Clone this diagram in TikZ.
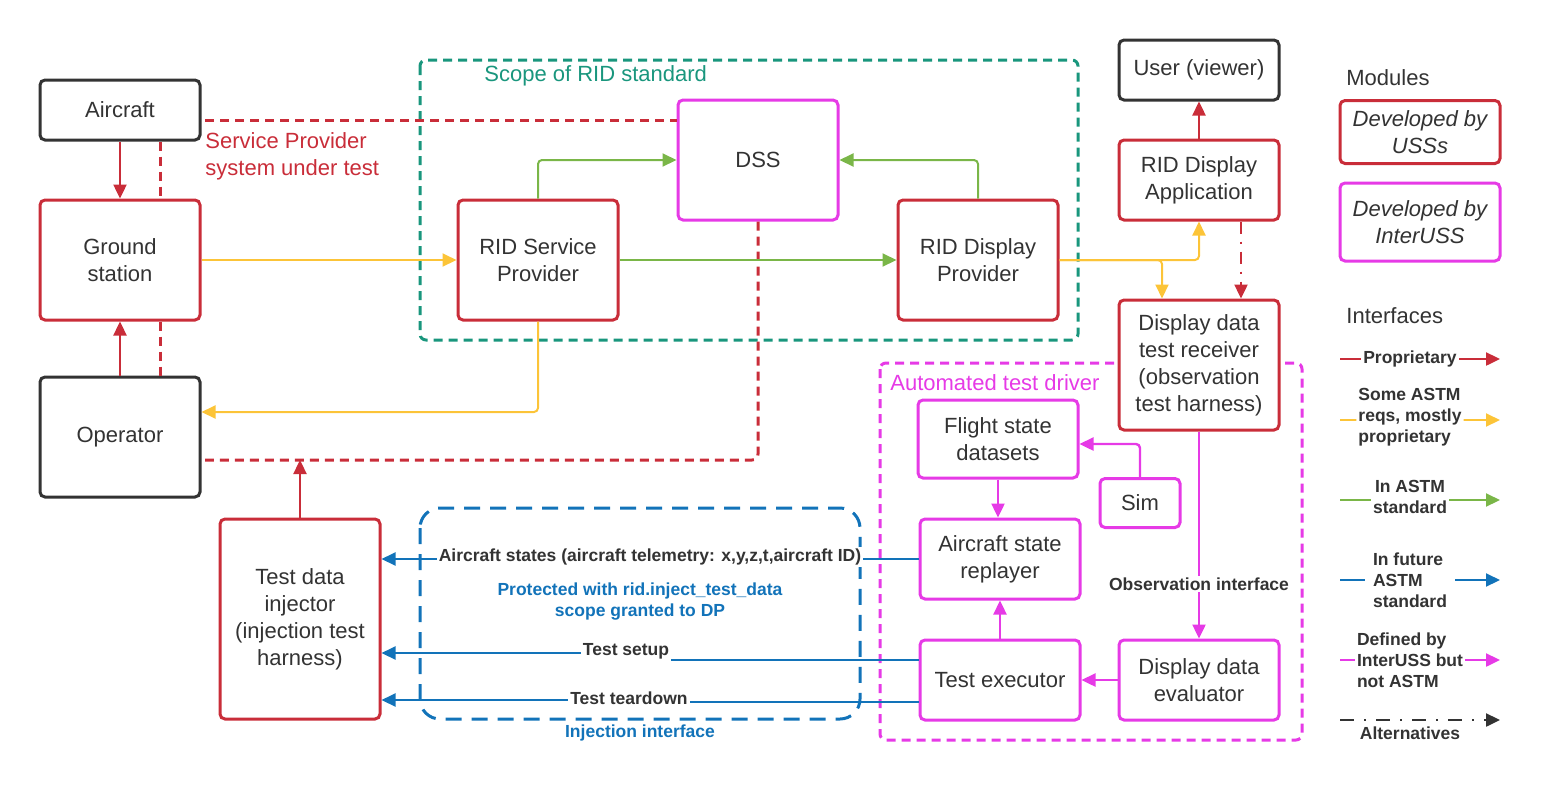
\documentclass[tikz,border=0pt]{standalone}
\usepackage{fontspec}
\setmainfont{Liberation Sans}
\usetikzlibrary{arrows.meta}
\definecolor{ured}{HTML}{C92D39}
\definecolor{umag}{HTML}{E63AE6}
\definecolor{uteal}{HTML}{19967D}
\definecolor{ugreen}{HTML}{7AB648}
\definecolor{uyellow}{HTML}{FCC438}
\definecolor{ublue}{HTML}{1273B9}
\definecolor{utext}{HTML}{333333}

\begin{document}
\begin{tikzpicture}[x=0.5pt,y=-0.5pt,
  box/.style={draw, fill=white, rounded corners=2.5pt, line width=1.5pt, align=center,
    inner sep=0pt, text=utext, font=\fontsize{11}{13.5}\selectfont},
  redbox/.style={box, draw=ured},
  magbox/.style={box, draw=umag},
  blkbox/.style={box, draw=utext},
  tip/.style={-{Triangle[length=7pt,width=6.5pt]}},
  redline/.style={draw=ured, line width=1.2pt},
  yelline/.style={draw=uyellow, line width=1pt, rounded corners=2pt},
  grnline/.style={draw=ugreen, line width=1pt, rounded corners=2pt},
  bluline/.style={draw=ublue, line width=1pt},
  magline/.style={draw=umag, line width=1.2pt, rounded corners=2pt},
  bnddash/.style={line width=1.5pt, dash pattern=on 4.5pt off 3pt, rounded corners=3pt},
  lbl/.style={fill=white, inner sep=1pt, text=utext, font=\fontsize{8.75}{10.5}\selectfont\bfseries},
  legtxt/.style={lbl, align=left},
  plain/.style={inner sep=0pt, font=\fontsize{11}{13.5}\selectfont},
  bluetxt/.style={inner sep=0pt, align=center, text=ublue, font=\fontsize{8.75}{10.5}\selectfont\bfseries}
]
\useasboundingbox (0,0) rectangle (1560,800);

% regions
\draw[uteal, bnddash] (420,60) rectangle (1078,340);
\draw[umag, bnddash] (880,363) rectangle (1302,740);
\draw[ublue, line width=1.5pt, dash pattern=on 8pt off 5pt, rounded corners=10pt] (420,508) rectangle (860,719);
\node[plain, anchor=west, text=uteal] at (484,76) {Scope of RID standard};
\node[plain, anchor=west, text=umag] at (890,383) {Automated test driver};
\node[plain, anchor=west, align=left, text=ured] at (205,156) {Service Provider\\system under test};

% modules
\node[blkbox, minimum width=80pt, minimum height=30pt] (aircraft) at (120,110) {Aircraft};
\node[redbox, minimum width=80pt, minimum height=60pt] (ground) at (120,260) {Ground\\station};
\node[blkbox, minimum width=80pt, minimum height=60pt] (operator) at (120,437) {Operator};
\node[redbox, minimum width=80pt, minimum height=100pt] (injector) at (300,619) {Test data\\injector\\(injection test\\harness)};
\node[redbox, minimum width=80pt, minimum height=60pt] (rsp) at (538,260) {RID Service\\Provider};
\node[magbox, minimum width=80pt, minimum height=60pt] (dss) at (758,160) {DSS};
\node[redbox, minimum width=80pt, minimum height=60pt] (rdp) at (978,260) {RID Display\\Provider};
\node[blkbox, minimum width=80pt, minimum height=30pt] (user) at (1199,70) {User (viewer)};
\node[redbox, minimum width=80pt, minimum height=40pt] (rda) at (1199,180) {RID Display\\Application};
\node[redbox, minimum width=80pt, minimum height=65pt] (recv) at (1199,365) {Display data\\test receiver\\(observation\\test harness)};
\node[magbox, minimum width=80pt, minimum height=39pt] (fsd) at (998,439) {Flight state\\datasets};
\node[magbox, minimum width=40pt, minimum height=24.5pt] (sim) at (1140,503) {Sim};
\node[magbox, minimum width=80pt, minimum height=40pt] (asr) at (1000,559) {Aircraft state\\replayer};
\node[magbox, minimum width=80pt, minimum height=40pt] (tex) at (1000,680) {Test executor};
\node[magbox, minimum width=80pt, minimum height=40pt] (dde) at (1199,680) {Display data\\evaluator};

% boundary of the service provider system under test
\coordinate (sut1) at (205,120);
\coordinate (sut2) at (205,460);
\draw[ured, bnddash] (sut1) -- (sut1 -| dss.west);
\draw[ured, bnddash] (dss.south) |- (sut2);
\draw[ured, bnddash] ([xshift=20pt]aircraft.south) -- ([xshift=20pt]ground.north);
\draw[ured, bnddash] ([xshift=20pt]ground.south) -- ([xshift=20pt]operator.north);

% proprietary interfaces
\draw[redline, tip] (aircraft) -- (ground);
\draw[redline, tip] (operator) -- (ground);
\draw[redline, tip] (injector.north) -- (injector.north |- sut2);
\draw[redline, tip] (rda) -- (user);
\draw[redline, tip, dash pattern=on 6pt off 4pt on 1pt off 4pt] ([xshift=21pt]rda.south) -- ([xshift=21pt]recv.north);

% mostly proprietary
\draw[yelline, tip] (ground) -- (rsp);
\draw[yelline, tip] (rsp.south) |- ([yshift=12.5pt]operator.east);
\draw[yelline, tip] (rdp.east) -| (rda.south);
\draw[yelline, tip] (rdp.east) -| ([xshift=-18.5pt]recv.north);

% ASTM standard
\draw[grnline, tip] (rsp.north) |- (dss.west);
\draw[grnline, tip] (rdp.north) |- (dss.east);
\draw[grnline, tip] (rsp) -- (rdp);

% InterUSS interfaces
\draw[magline, tip] (recv.south) -- (dde.north);
\node[lbl] (obs) at (1199,584) {Observation interface};
\draw[magline, tip] (dde) -- (tex);
\draw[magline, tip] (tex) -- (asr);
\draw[magline, tip] (fsd.south) -- (fsd.south |- asr.north);
\draw[magline, tip] (sim.north) |- ([yshift=-2.5pt]fsd.east);

% injection interface
\draw[bluline, tip] (asr.west) -- (asr.west -| injector.east)
  node[lbl, midway, yshift=1pt] {Aircraft states (aircraft telemetry: x,y,z,t,aircraft ID)};
\draw[bluline, tip] ([yshift=10pt]tex.west) -| (626,656.5) |- ([yshift=-17pt]injector.east);
\node[lbl] (setup) at (626,651) {Test setup};
\draw[bluline, tip] ([yshift=-11pt]tex.west) -| (629,701) |- ([yshift=-40.5pt]injector.east);
\node[lbl] (teardown) at (629,698) {Test teardown};
\node[bluetxt] at (640,602) {Protected with rid.inject\_test\_data\\scope granted to DP};
\node[bluetxt] at (640,733) {Injection interface};

% legend
\node[plain, anchor=west, text=utext] at (1346,78) {Modules};
\node[redbox, minimum width=80pt, minimum height=31.5pt, font=\fontsize{11}{13.5}\selectfont\itshape] (legusss) at (1420,132) {Developed by\\USSs};
\node[magbox, minimum width=80pt, minimum height=39pt, font=\fontsize{11}{13.5}\selectfont\itshape] (leginter) at (1420,222) {Developed by\\InterUSS};
\node[plain, anchor=west, text=utext] at (1346,316) {Interfaces};

\coordinate (la1) at (1340,359); \coordinate (lb1) at (1500,359);
\coordinate (la2) at (1340,420); \coordinate (lb2) at (1500,420);
\coordinate (la3) at (1340,500); \coordinate (lb3) at (1500,500);
\coordinate (la4) at (1340,580); \coordinate (lb4) at (1500,580);
\coordinate (la5) at (1340,660); \coordinate (lb5) at (1500,660);
\coordinate (la6) at (1340,720); \coordinate (lb6) at (1500,720);
\draw[redline, tip] (la1) -- (lb1) node[legtxt, pos=0.4375] {Proprietary};
\draw[yelline, tip] (la2) -- (lb2) node[legtxt, pos=0.4375, yshift=1.5pt] {Some ASTM\\reqs, mostly\\proprietary};
\draw[grnline, tip] (la3) -- (lb3) node[legtxt, align=center, pos=0.4375, yshift=1.5pt] {In ASTM\\standard};
\draw[bluline, tip] (la4) -- (lb4) node[legtxt, pos=0.4375, inner xsep=4pt] {In future\\ASTM\\standard};
\draw[magline, tip] (la5) -- (lb5) node[legtxt, pos=0.4375] {Defined by\\InterUSS but\\not ASTM};
\draw[draw=utext, line width=1.2pt, tip, dash pattern=on 7pt off 5pt on 1pt off 5pt] (la6) -- (lb6);
\node[legtxt, fill=none] (legalt) at (1410,733) {Alternatives};
\end{tikzpicture}
\end{document}
